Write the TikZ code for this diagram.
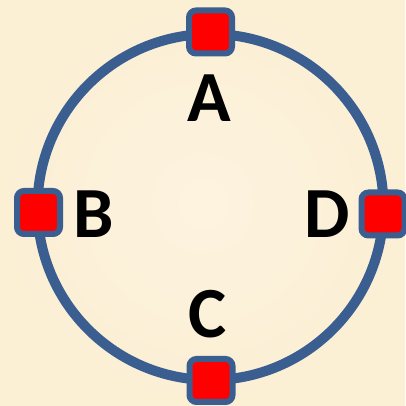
\documentclass[tikz,border=0pt]{standalone}
\usepackage{fontspec}
\setmainfont{Carlito}
\definecolor{paper}{RGB}{251,239,212}
\definecolor{paperlight}{RGB}{253,243,223}
\definecolor{ringblue}{RGB}{59,94,145}
\definecolor{portred}{RGB}{255,0,0}
\tikzset{
  port/.style={draw=ringblue, fill=portred, line width=6pt, rounded corners=7pt,
    minimum size=43pt, inner sep=0pt},
  tag/.style={font=\bfseries\fontsize{72}{72}\selectfont, inner sep=0pt, text=black},
}
\begin{document}
\begin{tikzpicture}[x=1pt,y=1pt]
  % paper background
  \path[use as bounding box, inner color=paperlight, outer color=paper] (0,0) rectangle (405,406);
  % ring
  \coordinate (ctr) at (210.5,199);
  \draw[ringblue, line width=10pt] (ctr) circle[radius=173];
  % ports on the ring
  \node[port] (pa) at (210.5,374) {};
  \node[port] (pb) at (38.5,193.5) {};
  \node[port] (pd) at (383,192) {};
  \node[port] (pc) at (211,25.5) {};
  % labels
  \node[tag] (la) at (209,308) {A};
  \node[tag] (lb) at (93.5,191.5) {B};
  \node[tag] (ld) at (327,191.5) {D};
  \node[tag] (lc) at (207.5,91.5) {C};
\end{tikzpicture}
\end{document}
